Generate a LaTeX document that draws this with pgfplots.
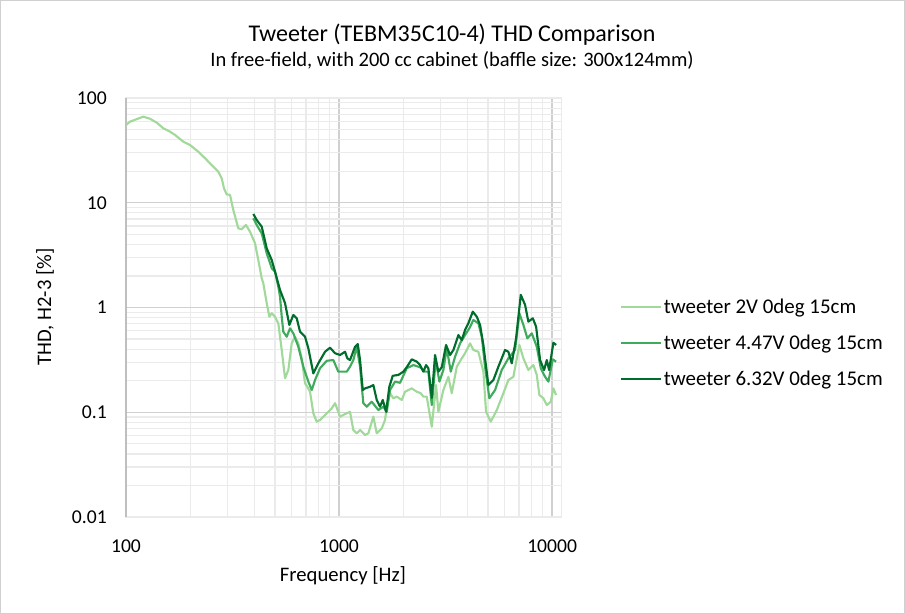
\documentclass[border=0pt]{standalone}
\usepackage{pgfplots}
\pgfplotsset{compat=1.18}
\usepackage{fontspec}
\setmainfont{Carlito}
\definecolor{cLight}{HTML}{A1D99B}
\definecolor{cMed}{HTML}{41AB5D}
\definecolor{cDark}{HTML}{006D2C}
\definecolor{gMajor}{HTML}{D0D0D0}
\definecolor{gMinor}{HTML}{EBEBEB}
\definecolor{gAxis}{HTML}{BFBFBF}
\begin{document}
\begin{tikzpicture}
\path[draw=gMajor, line width=0.75pt] (0.4pt,0.4pt) rectangle (678.35pt,460.1pt);
\begin{axis}[
  at={(94.5pt,72.75pt)}, anchor=south west,
  scale only axis, width=326.8pt, height=314.25pt,
  xmode=log, ymode=log,
  xmin=100, xmax=11100, ymin=0.01, ymax=100,
  xtick={100,1000,10000}, xticklabels={100,1000,10000},
  ytick={0.01,0.1,1,10,100}, yticklabels={0.01,0.1,1,10,100},
  minor xtick={200,300,400,500,600,700,800,900,2000,3000,4000,5000,6000,7000,8000,9000},
  minor ytick={0.02,0.03,0.04,0.05,0.06,0.07,0.08,0.09,0.2,0.3,0.4,0.5,0.6,0.7,0.8,0.9,2,3,4,5,6,7,8,9,20,30,40,50,60,70,80,90},
  grid=both,
  major grid style={draw=gMajor, line width=1.1pt},
  minor grid style={draw=gMinor, line width=0.9pt},
  major tick length=0pt, minor tick length=0pt,
  axis line style={draw=gMinor, line width=0.9pt},
  extra x ticks={100}, extra x tick labels={},
  extra x tick style={grid=major, major grid style={draw=gAxis, line width=1.1pt}},
  /pgf/number format/assume math mode=true,
  tick label style={font=\fontsize{14.7}{17}\selectfont, inner sep=0pt},
  xticklabel style={anchor=base, yshift=-26.25pt},
  yticklabel style={anchor=east, xshift=-14.25pt},
  legend style={at={(1.1338,0.4146)}, anchor=west, draw=none, fill=none,
    inner sep=0pt, row sep=12.5pt, font=\fontsize{15.7}{18}\selectfont,
    nodes={inner sep=1pt}},
  legend cell align=left,
  legend image code/.code={\draw[#1] (0pt,0pt) -- (30pt,0pt);},
  every axis plot/.append style={line width=1.6pt, line join=round},
]
\addplot[color=cLight] coordinates {
(100,55.2)(104.4,59.4)(120.6,66.3)(129.6,63.4)(139.4,58.1)(149.7,51.4)(160.9,47.7)(169.8,44.4)(185.8,38.3)(199.7,35.6)(218.5,30.7)(234.9,26.6)(252.6,22.9)(271.3,19.8)(281.4,17.1)(288.5,13.7)(297.0,12.0)(307.8,11.9)(319.0,8.53)(336.7,5.70)(349.3,5.58)(365.9,6.13)(382.1,5.29)(403.3,4.10)(417.9,2.84)(433.6,1.90)(441.2,1.70)(457.7,1.10)(470.8,0.817)(483.1,0.880)(500.6,0.817)(518.8,0.707)(538.3,0.393)(557.9,0.211)(578.1,0.253)(599.7,0.455)(621.5,0.526)(644.1,0.455)(668.3,0.327)(692.5,0.189)(710.0,0.175)(730.9,0.157)(757.5,0.0977)(785.9,0.0813)(814.4,0.0843)(843.9,0.0907)(875.5,0.0977)(924.2,0.109)(957.8,0.122)(1011,0.0907)(1067,0.0962)(1126,0.101)(1167,0.0677)(1211,0.0630)(1255,0.0677)(1325,0.0607)(1373,0.063)(1449,0.0907)(1503,0.063)(1587,0.0703)(1644,0.0843)(1675,0.113)(1735,0.152)(1798,0.136)(1866,0.141)(1970,0.131)(2041,0.157)(2194,0.169)(2317,0.157)(2418,0.152)(2487,0.141)(2580,0.141)(2724,0.0728)(2854,0.182)(2926,0.101)(3088,0.163)(3260,0.218)(3381,0.152)(3570,0.272)(3768,0.327)(3904,0.366)(4121,0.455)(4272,0.393)(4508,0.378)(4759,0.244)(4898,0.101)(5155,0.0813)(5502,0.105)(5908,0.152)(6234,0.203)(6581,0.218)(7023,0.439)(7334,0.327)(7740,0.253)(8170,0.282)(8475,0.227)(8716,0.146)(9106,0.136)(9445,0.117)(9861,0.126)(10141,0.169)(10442,0.146)
};
\addlegendentry{tweeter 2V 0deg 15cm}
\addplot[color=cMed] coordinates {
(396.0,7.11)(410.8,6.13)(433.6,5.11)(457.7,3.29)(483.1,2.37)(500.6,2.20)(518.8,1.58)(528.4,1.27)(538.3,0.817)(547.6,0.587)(568.1,0.526)(588.8,0.633)(610.2,0.567)(644.1,0.422)(680.0,0.272)(717.7,0.196)(744.6,0.163)(771.6,0.203)(814.4,0.263)(875.5,0.310)(940.2,0.315)(992.5,0.244)(1011,0.244)(1087,0.244)(1126,0.272)(1167,0.315)(1211,0.422)(1255,0.272)(1300,0.122)(1349,0.113)(1424,0.126)(1530,0.105)(1614,0.113)(1675,0.101)(1735,0.163)(1832,0.196)(1934,0.191)(2078,0.263)(2233,0.282)(2401,0.269)(2534,0.244)(2626,0.244)(2724,0.117)(2844,0.315)(2958,0.196)(3088,0.253)(3204,0.408)(3345,0.244)(3504,0.339)(3700,0.455)(3904,0.546)(4090,0.633)(4272,0.760)(4508,0.707)(4677,0.526)(4846,0.272)(5076,0.136)(5401,0.163)(5804,0.253)(6234,0.327)(6703,0.393)(7023,0.880)(7334,0.681)(7656,0.508)(8030,0.567)(8475,0.422)(8851,0.263)(9270,0.218)(9607,0.196)(10076,0.320)(10442,0.304)
};
\addlegendentry{tweeter 4.47V 0deg 15cm}
\addplot[color=cDark] coordinates {
(396.0,7.81)(410.8,6.84)(433.6,5.91)(457.7,3.67)(483.1,2.84)(500.6,2.20)(528.4,1.47)(557.9,1.10)(584.4,0.681)(610.2,0.848)(633.1,0.789)(656.1,0.587)(692.5,0.526)(717.7,0.408)(757.5,0.235)(799.6,0.293)(859.5,0.378)(907.2,0.413)(957.8,0.366)(1011,0.352)(1067,0.378)(1094,0.327)(1126,0.315)(1189,0.422)(1224,0.448)(1255,0.315)(1292,0.163)(1325,0.169)(1398,0.175)(1449,0.182)(1503,0.131)(1557,0.113)(1604,0.131)(1663,0.101)(1722,0.175)(1787,0.223)(1898,0.227)(2004,0.244)(2078,0.269)(2194,0.320)(2317,0.304)(2401,0.282)(2487,0.244)(2562,0.282)(2626,0.263)(2724,0.137)(2823,0.352)(2926,0.244)(3035,0.269)(3180,0.439)(3320,0.352)(3441,0.393)(3632,0.546)(3768,0.489)(3904,0.610)(4046,0.707)(4244,0.912)(4431,0.817)(4592,0.681)(4759,0.439)(5023,0.182)(5302,0.203)(5597,0.272)(6015,0.393)(6234,0.378)(6468,0.293)(6776,0.508)(7130,1.32)(7468,1.06)(7740,0.732)(8117,0.789)(8413,0.656)(8785,0.315)(9172,0.253)(9445,0.315)(9681,0.253)(10141,0.461)(10442,0.439)
};
\addlegendentry{tweeter 6.32V 0deg 15cm}
\end{axis}
\node[font=\fontsize{18}{21}\selectfont] at (339pt,434.5pt) {Tweeter (TEBM35C10-4) THD Comparison};
\node[font=\fontsize{15.4}{17}\selectfont] at (339pt,415.5pt) {In free-field, with 200 cc cabinet (baffle size: 300x124mm)};
\node[font=\fontsize{15.5}{17}\selectfont, rotate=90] at (33.75pt,230.25pt) {THD, H2-3 [\%]};
\node[font=\fontsize{15.5}{17}\selectfont] at (257.25pt,28.5pt) {Frequency [Hz]};
\end{tikzpicture}
\end{document}
